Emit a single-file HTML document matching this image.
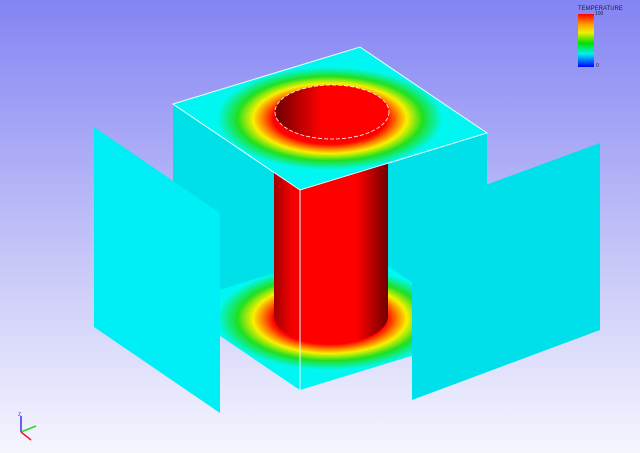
<!DOCTYPE html>
<html><head><meta charset="utf-8"><style>
html,body{margin:0;padding:0;width:640px;height:453px;overflow:hidden}
svg{display:block}
</style></head><body>
<svg width="640" height="453" viewBox="0 0 640 453">
<defs>
<linearGradient id="bg" x1="0" y1="0" x2="0" y2="1">
<stop offset="0" stop-color="#8484f4"/><stop offset="0.55" stop-color="#c4c4f8"/><stop offset="1" stop-color="#f6f6ff"/>
</linearGradient>
<radialGradient id="heat" cx="0.5" cy="0.5" r="0.5">
<stop offset="0.36" stop-color="#ff0000"/>
<stop offset="0.41" stop-color="#ff6000"/>
<stop offset="0.49" stop-color="#f8f000"/>
<stop offset="0.59" stop-color="#20e020"/>
<stop offset="0.72" stop-color="#00f8f0"/>
<stop offset="1" stop-color="#00f4f4"/>
</radialGradient>
<linearGradient id="cyl" x1="274" y1="0" x2="388" y2="0" gradientUnits="userSpaceOnUse">
<stop offset="0" stop-color="#a00000"/><stop offset="0.15" stop-color="#f00000"/><stop offset="0.3" stop-color="#ff0000"/>
<stop offset="0.72" stop-color="#ff0000"/><stop offset="1" stop-color="#700000"/>
</linearGradient>
<linearGradient id="hole" x1="276" y1="0" x2="390" y2="0" gradientUnits="userSpaceOnUse">
<stop offset="0" stop-color="#700000"/><stop offset="0.4" stop-color="#ff0000"/><stop offset="1" stop-color="#ff0000"/>
</linearGradient>
<linearGradient id="lg" x1="0" y1="0" x2="0" y2="1">
<stop offset="0" stop-color="#ff0000"/><stop offset="0.2" stop-color="#ffa000"/><stop offset="0.35" stop-color="#f0f000"/>
<stop offset="0.55" stop-color="#00e000"/><stop offset="0.75" stop-color="#00f0f0"/><stop offset="1" stop-color="#0000ff"/>
</linearGradient>
</defs>
<rect width="640" height="453" fill="url(#bg)"/>
<polygon points="173,104 360,47 487,133 487,320 300,390 173,304" fill="#00e0e8"/>
<polygon points="173,304 360,247 487,333 300,390" fill="url(#heat)"/>
<g>
<rect x="274" y="112" width="114" height="204" fill="url(#cyl)"/>
<ellipse cx="331" cy="316" rx="57" ry="28" fill="url(#cyl)"/>
</g>
<polygon points="173,104 360,47 487,133 300,190" fill="url(#heat)" stroke="#e8ffff" stroke-width="1"/>
<ellipse cx="332" cy="112" rx="57" ry="27" fill="url(#hole)" stroke="#ffffff" stroke-width="0.8" stroke-dasharray="4 2"/>
<line x1="300" y1="190" x2="300" y2="390" stroke="#e8ffff" stroke-width="1"/>
<polygon points="94,127 220,213 220,413 94,327" fill="#00eef6"/>
<polygon points="412,212 600,143 600,330 412,400" fill="#00e0ea"/>
<g>
<text x="578" y="10" font-family="Liberation Sans, sans-serif" font-size="6" fill="#202040">TEMPERATURE</text>
<text x="595" y="15" font-family="Liberation Sans, sans-serif" font-size="5" fill="#202040">100</text>
<rect x="578" y="14" width="16" height="53" fill="url(#lg)"/>
<text x="596" y="67" font-family="Liberation Sans, sans-serif" font-size="5" fill="#202040">0</text>
</g>
<g>
<line x1="21" y1="432" x2="21" y2="416" stroke="#6060ff" stroke-width="2"/>
<text x="18" y="416" font-family="Liberation Sans, sans-serif" font-size="5" fill="#4040c0">Z</text>
<line x1="21" y1="432" x2="36" y2="426" stroke="#20e020" stroke-width="1.5"/>
<line x1="21" y1="432" x2="31" y2="440" stroke="#e02020" stroke-width="1.5"/>
</g>
</svg>
</body></html>
